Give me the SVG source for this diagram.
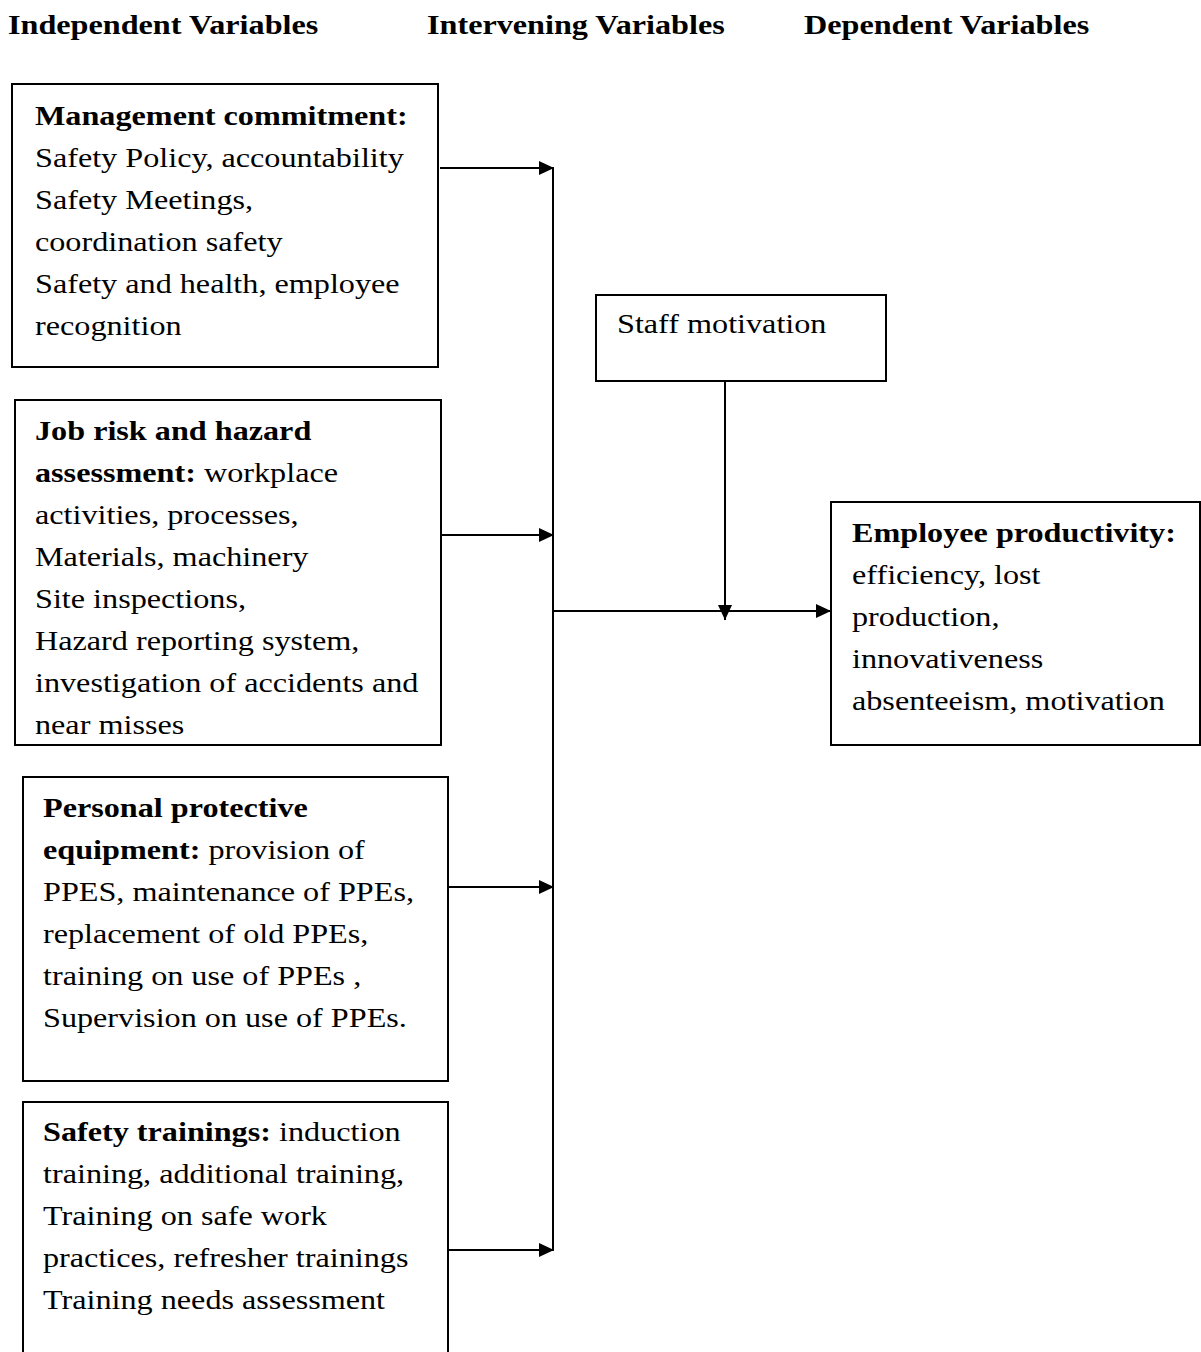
<svg xmlns="http://www.w3.org/2000/svg" width="1201" height="1352" viewBox="0 0 1201 1352">
<style>
text{font-family:"Liberation Serif","Times New Roman",serif;font-size:28px;fill:#000}
.b{font-weight:bold}
.box{fill:#fff;stroke:#000;stroke-width:2}
.c{fill:none;stroke:#000;stroke-width:2}
</style>
<defs>
<marker id="ah" markerUnits="userSpaceOnUse" markerWidth="16" markerHeight="14" refX="15" refY="7" orient="auto">
<path d="M0,0 L15,7 L0,14 Z" fill="#000"/>
</marker>
</defs>
<rect width="1201" height="1352" fill="#fff"/>
<g id="headers">
<g transform="translate(8,0) scale(1.15,1)"><text class="b" x="0" y="34">Independent Variables</text></g>
<g transform="translate(427,0) scale(1.15,1)"><text class="b" x="0" y="34">Intervening Variables</text></g>
<g transform="translate(804,0) scale(1.15,1)"><text class="b" x="0" y="34">Dependent Variables</text></g>
</g>
<g id="connectors">
<line class="c" x1="553" y1="168" x2="553" y2="1250"/>
<line class="c" x1="440" y1="168" x2="554" y2="168" marker-end="url(#ah)"/>
<line class="c" x1="441" y1="535" x2="554" y2="535" marker-end="url(#ah)"/>
<line class="c" x1="448" y1="887" x2="554" y2="887" marker-end="url(#ah)"/>
<line class="c" x1="448" y1="1250" x2="554" y2="1250" marker-end="url(#ah)"/>
<line class="c" x1="553" y1="611" x2="831" y2="611" marker-end="url(#ah)"/>
<line class="c" x1="725" y1="381" x2="725" y2="620" marker-end="url(#ah)"/>
</g>
<g id="management">
<rect class="box" x="12" y="84" width="426" height="283"/>
<g transform="translate(35,0) scale(1.15,1)">
<text x="0" y="125"><tspan class="b">Management commitment:</tspan></text>
<text x="0" y="167">Safety Policy, accountability</text>
<text x="0" y="209">Safety Meetings,</text>
<text x="0" y="251">coordination safety</text>
<text x="0" y="293">Safety and health, employee</text>
<text x="0" y="335">recognition</text>
</g>
</g>
<g id="jobrisk">
<rect class="box" x="15" y="400" width="426" height="345"/>
<g transform="translate(35,0) scale(1.15,1)">
<text x="0" y="440"><tspan class="b">Job risk and hazard</tspan></text>
<text x="0" y="482"><tspan class="b">assessment:</tspan> workplace</text>
<text x="0" y="524">activities, processes,</text>
<text x="0" y="566">Materials, machinery</text>
<text x="0" y="608">Site inspections,</text>
<text x="0" y="650">Hazard reporting system,</text>
<text x="0" y="692">investigation of accidents and</text>
<text x="0" y="734">near misses</text>
</g>
</g>
<g id="ppe">
<rect class="box" x="23" y="777" width="425" height="304"/>
<g transform="translate(43,0) scale(1.15,1)">
<text x="0" y="817"><tspan class="b">Personal protective</tspan></text>
<text x="0" y="859"><tspan class="b">equipment:</tspan> provision of</text>
<text x="0" y="901">PPES, maintenance of PPEs,</text>
<text x="0" y="943">replacement of old PPEs,</text>
<text x="0" y="985">training on use of PPEs ,</text>
<text x="0" y="1027">Supervision on use of PPEs.</text>
</g>
</g>
<g id="training">
<rect class="box" x="23" y="1102" width="425" height="270"/>
<g transform="translate(43,0) scale(1.15,1)">
<text x="0" y="1141"><tspan class="b">Safety trainings:</tspan> induction</text>
<text x="0" y="1183">training, additional training,</text>
<text x="0" y="1225">Training on safe work</text>
<text x="0" y="1267">practices, refresher trainings</text>
<text x="0" y="1309">Training needs assessment</text>
</g>
</g>
<g id="staff">
<rect class="box" x="596" y="295" width="290" height="86"/>
<g transform="translate(617,0) scale(1.15,1)">
<text x="0" y="333">Staff motivation</text>
</g>
</g>
<g id="productivity">
<rect class="box" x="831" y="502" width="369" height="243"/>
<g transform="translate(852,0) scale(1.15,1)">
<text x="0" y="542"><tspan class="b">Employee productivity:</tspan></text>
<text x="0" y="584">efficiency, lost</text>
<text x="0" y="626">production,</text>
<text x="0" y="668">innovativeness</text>
<text x="0" y="710">absenteeism, motivation</text>
</g>
</g>
</svg>
